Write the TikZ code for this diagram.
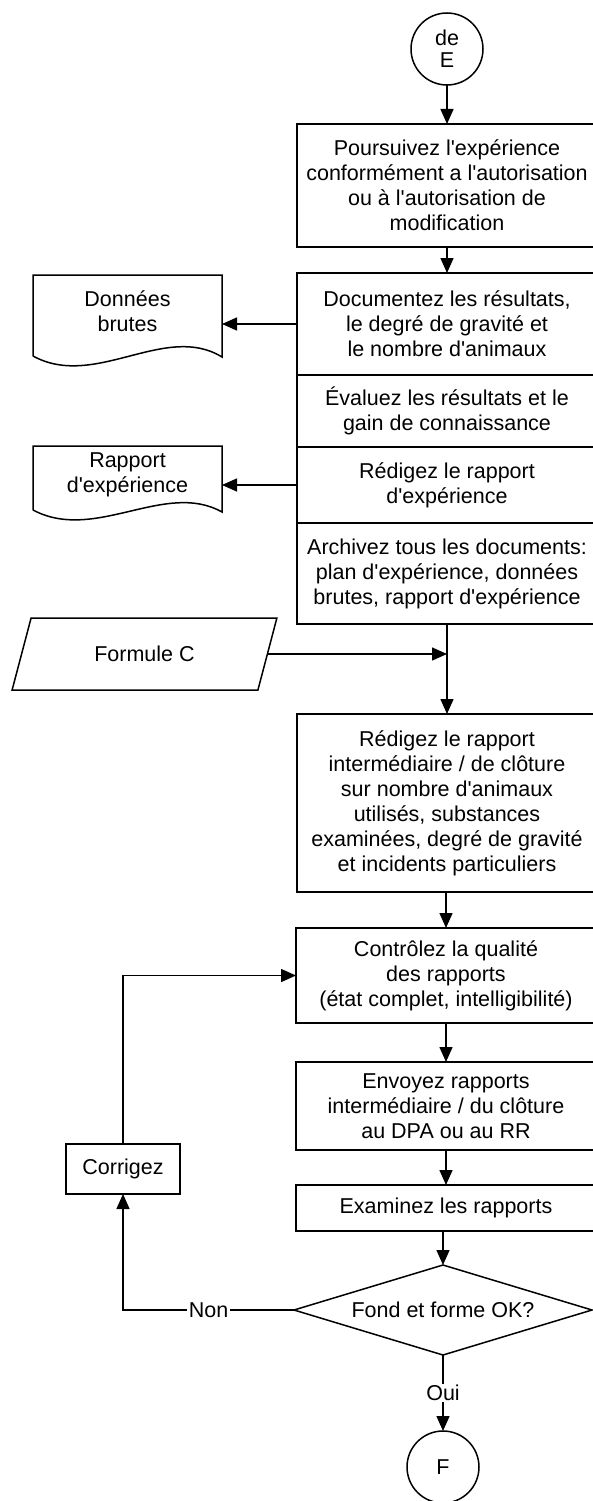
\documentclass[tikz,border=0pt]{standalone}
\usepackage{fontspec}
\setmainfont{Liberation Sans}
\usetikzlibrary{arrows.meta,shapes.geometric}
\newcommand{\apos}{\textquotesingle}
\begin{document}
\begin{tikzpicture}[x=1pt,y=-1pt,
  every node/.style={font=\fontsize{21.5}{25}\selectfont, inner sep=0pt, outer sep=0pt},
  proc/.style={draw, line width=1.5pt, minimum width=300pt, align=center},
  smallbox/.style={draw, line width=1.5pt, align=center},
  link/.style={line width=1.5pt, -{Triangle[length=15pt,width=13pt]}},
  wire/.style={line width=1.5pt},
  docframe/.style={minimum width=189pt},
  conn/.style={draw, circle, line width=1.5pt, minimum size=72pt, align=center},
  decision/.style={draw, diamond, line width=1.5pt, minimum width=298pt, minimum height=90pt, aspect=3.3},
  dataio/.style={draw, trapezium, trapezium left angle=62, trapezium right angle=118,
                 trapezium stretches=true, line width=1.5pt, minimum width=265pt, minimum height=72pt},
  lbl/.style={fill=white, inner xsep=2pt, inner ysep=1pt}
]
\useasboundingbox (0,0) rectangle (592,1501);

% start connector
\node[conn] (E) at (447,49) {de\\[-3pt]E};

% main column (right edge runs off the page, as in the reference)
\node[proc, minimum height=123pt] (b1) at (447,185.5)
  {Poursuivez l\apos exp\'erience\\conform\'ement a l\apos autorisation\\ou \`a l\apos autorisation de\\modification};
\node[proc, minimum height=102pt] (b2a) at (447,324)
  {Documentez les r\'esultats,\\le degr\'e de gravit\'e et\\le nombre d\apos animaux};
\node[proc, minimum height=72pt] (b2b) at (447,411)
  {\'Evaluez les r\'esultats et le\\gain de connaissance};
\node[proc, minimum height=76pt] (b2c) at (447,485)
  {R\'edigez le rapport\\d\apos exp\'erience};
\node[proc, minimum height=101pt] (b2d) at (447,573.5)
  {Archivez tous les documents:\\plan d\apos exp\'erience, donn\'ees\\brutes, rapport d\apos exp\'erience};
\node[proc, minimum height=178pt] (b3) at (447,803)
  {R\'edigez le rapport\\interm\'ediaire / de cl\^oture\\sur nombre d\apos animaux\\utilis\'es, substances\\examin\'ees, degr\'e de gravit\'e\\et incidents particuliers};
\node[proc, minimum height=95pt] (b4) at (446,975.5)
  {Contr\^olez la qualit\'e\\des rapports\\(\'etat complet, intelligibilit\'e)};
\node[proc, minimum height=88pt] (b5) at (446,1106)
  {Envoyez rapports\\interm\'ediaire / du cl\^oture\\au DPA ou au RR};
\node[proc, minimum height=46pt] (b6) at (446,1208)
  {Examinez les rapports};
\node[decision] (dia) at (443,1310) {Fond et forme OK?};
\node[conn] (F) at (443,1467) {F};

% side elements
\node[smallbox, minimum width=114pt, minimum height=50pt] (cor) at (123,1169) {Corrigez};
\node[dataio] (fc) at (144.5,654) {Formule C};

% documents (wavy bottom)
\node[docframe, minimum height=82pt] (dd) at (127.5,316) {};
\node[align=center] (ddt) at (127.5,311) {Donn\'ees\\brutes};
\draw[wire] (33,356) -- (33,275) -- (222,275) -- (222,357)
  .. controls (165,322) and (95,390) .. (33,356);

\node[docframe, minimum height=66pt] (rd) at (127.5,479) {};
\node[align=center] (rdt) at (127.5,474.5) {Rapport\\d\apos exp\'erience};
\draw[wire] (33,510) -- (33,446) -- (222,446) -- (222,512)
  .. controls (165,480) and (95,543) .. (33,510);

% connectors
\draw[link] (E.south) -- (E.south |- b1.north);
\draw[link] (b1.south) -- (b2a.north);
\draw[link] (b2a.west) -- (b2a.west -| dd.east);
\draw[link] (b2c.west) -- (b2c.west -| rd.east);
\draw[link] (b2d.south) -- (b3.north);
\draw[link] (fc.east) -- (fc.east -| b3.north);
\draw[link] (b3.south -| b4.north) -- (b4.north);
\draw[link] (b4.south) -- (b5.north);
\draw[link] (b5.south) -- (b6.north);
\draw[link] (b6.south -| dia.north) -- (dia.north);
\draw[link] (dia.west) -- node[lbl] {Non} (cor.south |- dia.west) -- (cor.south);
\draw[link] (cor.north) |- (b4.west);
\draw[link] (dia.south) -- node[lbl] {Oui} (F.north);
\end{tikzpicture}
\end{document}
